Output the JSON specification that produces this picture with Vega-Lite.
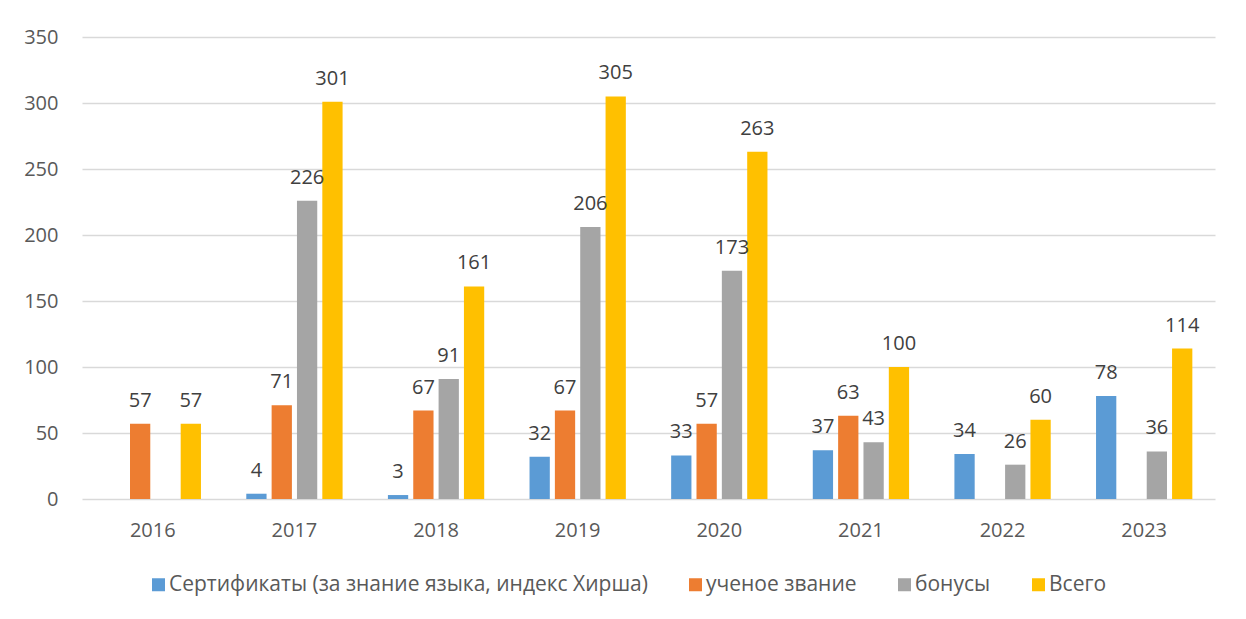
{
  "$schema": "https://vega.github.io/schema/vega-lite/v6.json",
  "width": 1133,
  "height": 462,
  "autosize": {"type": "none"},
  "padding": {"left": 82, "top": 37, "right": 31, "bottom": 120},
  "background": "white",
  "data": {
    "values": [
      {"year": "2016", "series": "ученое звание", "value": 57},
      {"year": "2016", "series": "Всего", "value": 57},
      {"year": "2017", "series": "Сертификаты (за знание языка, индекс Хирша)", "value": 4},
      {"year": "2017", "series": "ученое звание", "value": 71},
      {"year": "2017", "series": "бонусы", "value": 226},
      {"year": "2017", "series": "Всего", "value": 301},
      {"year": "2018", "series": "Сертификаты (за знание языка, индекс Хирша)", "value": 3},
      {"year": "2018", "series": "ученое звание", "value": 67},
      {"year": "2018", "series": "бонусы", "value": 91},
      {"year": "2018", "series": "Всего", "value": 161},
      {"year": "2019", "series": "Сертификаты (за знание языка, индекс Хирша)", "value": 32},
      {"year": "2019", "series": "ученое звание", "value": 67},
      {"year": "2019", "series": "бонусы", "value": 206},
      {"year": "2019", "series": "Всего", "value": 305},
      {"year": "2020", "series": "Сертификаты (за знание языка, индекс Хирша)", "value": 33},
      {"year": "2020", "series": "ученое звание", "value": 57},
      {"year": "2020", "series": "бонусы", "value": 173},
      {"year": "2020", "series": "Всего", "value": 263},
      {"year": "2021", "series": "Сертификаты (за знание языка, индекс Хирша)", "value": 37},
      {"year": "2021", "series": "ученое звание", "value": 63},
      {"year": "2021", "series": "бонусы", "value": 43},
      {"year": "2021", "series": "Всего", "value": 100},
      {"year": "2022", "series": "Сертификаты (за знание языка, индекс Хирша)", "value": 34},
      {"year": "2022", "series": "бонусы", "value": 26},
      {"year": "2022", "series": "Всего", "value": 60},
      {"year": "2023", "series": "Сертификаты (за знание языка, индекс Хирша)", "value": 78},
      {"year": "2023", "series": "бонусы", "value": 36},
      {"year": "2023", "series": "Всего", "value": 114}
    ]
  },
  "encoding": {
    "x": {
      "field": "year",
      "type": "nominal",
      "title": null,
      "scale": {"paddingInner": 0.32, "paddingOuter": 0.16},
      "axis": {"labelAngle": 0, "ticks": false, "domain": false, "labelPadding": 21, "grid": false}
    },
    "xOffset": {
      "field": "series",
      "type": "nominal",
      "scale": {
        "domain": ["Сертификаты (за знание языка, индекс Хирша)", "ученое звание", "бонусы", "Всего"],
        "paddingInner": 0.2,
        "paddingOuter": 0
      }
    },
    "y": {
      "field": "value",
      "type": "quantitative",
      "title": null,
      "scale": {"domain": [0, 350], "nice": false},
      "axis": {"values": [0, 50, 100, 150, 200, 250, 300, 350], "ticks": false, "domain": false, "labelPadding": 24, "gridColor": "#d9d9d9", "gridWidth": 1.5}
    }
  },
  "layer": [
    {
      "mark": {"type": "bar"},
      "encoding": {
        "color": {
          "field": "series",
          "type": "nominal",
          "title": null,
          "scale": {
            "domain": ["Сертификаты (за знание языка, индекс Хирша)", "ученое звание", "бонусы", "Всего"],
            "range": ["#5b9bd5", "#ed7d31", "#a5a5a5", "#ffc000"]
          },
          "legend": {
            "orient": "none",
            "legendX": 66,
            "legendY": 537,
            "direction": "horizontal",
            "symbolType": "square",
            "symbolSize": 169,
            "symbolStrokeWidth": 0,
            "labelOffset": 0,
            "columnPadding": 37,
            "labelLimit": 600
          }
        }
      }
    },
    {
      "mark": {"type": "text", "baseline": "alphabetic", "dy": -17, "fontSize": 20, "color": "#404040", "font": "Open Sans"},
      "encoding": {"text": {"field": "value", "type": "quantitative"}}
    }
  ],
  "config": {
    "font": "Open Sans",
    "view": {"stroke": null},
    "axis": {"labelFont": "Open Sans", "labelFontSize": 20, "labelColor": "#595959"},
    "legend": {"labelFont": "Open Sans", "labelFontSize": 21, "labelColor": "#595959"}
  }
}
